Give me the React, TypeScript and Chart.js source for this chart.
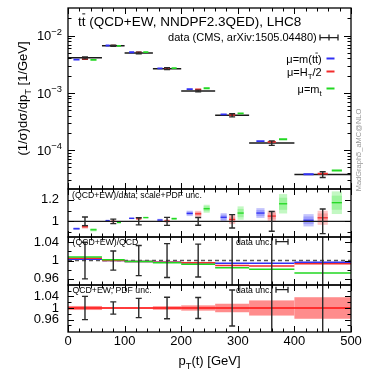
import React, { useEffect, useRef } from "react";
import { Chart, registerables } from "chart.js";

Chart.register(...registerables);

const FONT = "'Liberation Sans', Arial, Helvetica, sans-serif";

// ---------------- data ----------------
const BIN_EDGES = [0, 60, 100, 150, 200, 260, 320, 400, 500];
const DATA = [4.1e-3, 6.7e-3, 5.0e-3, 2.65e-3, 1.08e-3, 4.07e-4, 1.33e-4, 3.75e-5];
const DATA_REL_ERR = [0.04, 0.021, 0.033, 0.037, 0.036, 0.062, 0.092, 0.114];

// (QCD+EW)/data, with scale+PDF uncertainty (half width)
const RATIO_MTT = [0.932, 1.007, 1.028, 1.012, 1.074, 1.038, 1.077, 1.01];
const RATIO_MTT_UNC = [0.012, 0.008, 0.008, 0.012, 0.025, 0.038, 0.046, 0.057];
const RATIO_HT2 = [0.95, 1.0, 1.025, 1.003, 1.07, 1.018, 1.049, 1.033];
const RATIO_HT2_UNC = [0.018, 0.012, 0.012, 0.015, 0.028, 0.043, 0.049, 0.065];
const RATIO_MT = [0.922, 0.99, 1.035, 1.025, 1.117, 1.077, 1.163, 1.173];
const RATIO_MT_UNC = [0.015, 0.01, 0.008, 0.012, 0.037, 0.062, 0.09, 0.105];

// (QCD+EW)/QCD
const EW_MTT = [1.003, 1.0, 0.998, 0.996, 0.995, 0.994, 0.994, 0.996];
const EW_HT2 = [1.005, 1.0, 0.998, 0.996, 0.995, 0.989, 0.988, 0.993];
const EW_MT = [1.008, 1.002, 0.998, 0.995, 0.992, 0.984, 0.981, 0.973];

// QCD+EW PDF uncertainty (relative half width)
const PDF_UNC = [0.007, 0.002, 0.002, 0.006, 0.009, 0.0146, 0.026, 0.037];

// ticks
const X_TICKS = [0, 100, 200, 300, 400, 500];
const LOG_TICKS = [1e-4, 1e-3, 1e-2];
const R1_TICKS = [1, 1.2];
const R2_TICKS = [0.96, 1, 1.04];
const R3_TICKS = [0.96, 1, 1.04];

// ranges
const MAIN_MIN = 2.09e-5;
const MAIN_MAX = 3.05e-2;
const R1_MIN = 0.855;
const R1_MAX = 1.3;
const R2_MIN = 0.9465;
const R2_MAX = 1.0515;
const R3_MIN = 0.9175;
const R3_MAX = 1.079;

// ---------------- styles ----------------
const BLUE = "#3030f5";
const RED = "#f22c2c";
const GREEN = "#22d822";
const BLUE_FILL = "rgba(95,95,250,0.36)";
const RED_FILL = "rgba(250,95,95,0.36)";
const GREEN_FILL = "rgba(90,235,90,0.36)";
const BAND_FILL = "#ff8c8c";
const BOX_FRAC = 0.18;

const SERIES = [
  { ratio: RATIO_MTT, unc: RATIO_MTT_UNC, ew: EW_MTT, frac: 0.25, color: BLUE, fill: BLUE_FILL },
  { ratio: RATIO_HT2, unc: RATIO_HT2_UNC, ew: EW_HT2, frac: 0.5, color: RED, fill: RED_FILL },
  { ratio: RATIO_MT, unc: RATIO_MT_UNC, ew: EW_MT, frac: 0.75, color: GREEN, fill: GREEN_FILL },
];

type Part = { t: string; sub?: boolean; sup?: boolean; bar?: boolean };

function drawRich(ctx: CanvasRenderingContext2D, parts: Part[], x: number, y: number, size: number, align: "left" | "right" | "center", color = "#000") {
  const fs = (p: Part) => (p.sub || p.sup ? size * 0.72 : size);
  const widths = parts.map((p) => {
    ctx.font = `${fs(p)}px ${FONT}`;
    return ctx.measureText(p.t).width;
  });
  const total = widths.reduce((a, b) => a + b, 0);
  let cx = align === "left" ? x : align === "right" ? x - total : x - total / 2;
  ctx.textAlign = "left";
  ctx.textBaseline = "alphabetic";
  ctx.fillStyle = color;
  ctx.strokeStyle = color;
  parts.forEach((p, i) => {
    ctx.font = `${fs(p)}px ${FONT}`;
    const dy = p.sub ? size * 0.28 : p.sup ? -size * 0.42 : 0;
    ctx.fillText(p.t, cx, y + dy);
    if (p.bar) {
      ctx.beginPath();
      ctx.lineWidth = Math.max(0.8, size * 0.07);
      ctx.moveTo(cx + size * 0.04, y - size * 0.86);
      ctx.lineTo(cx + widths[i] - size * 0.02, y - size * 0.86);
      ctx.stroke();
    }
    cx += widths[i];
  });
}

function stepSegments(vals: number[]) {
  const pts: { x: number; y: number | null }[] = [];
  vals.forEach((v, i) => {
    pts.push({ x: BIN_EDGES[i], y: v }, { x: BIN_EDGES[i + 1], y: v }, { x: BIN_EDGES[i + 1], y: null });
  });
  return pts;
}

function markSegments(ratios: number[], frac: number) {
  const pts: { x: number; y: number | null }[] = [];
  ratios.forEach((r, i) => {
    const lo = BIN_EDGES[i];
    const w = BIN_EDGES[i + 1] - lo;
    const c = lo + w * frac;
    const h = (w * BOX_FRAC) / 2;
    const y = DATA[i] * r;
    pts.push({ x: c - h, y }, { x: c + h, y }, { x: c + h, y: null });
  });
  return pts;
}

function lineDs(data: any[], yAxisID: string, color: string, width: number, order: number, extra: any = {}) {
  return {
    type: "line",
    data,
    xAxisID: "x",
    yAxisID,
    borderColor: color,
    borderWidth: width,
    pointRadius: 0,
    fill: false,
    spanGaps: false,
    tension: 0,
    order,
    ...extra,
  };
}

function hLine(ctx: CanvasRenderingContext2D, x0: number, x1: number, y: number) {
  ctx.moveTo(x0, y);
  ctx.lineTo(x1, y);
}

function hErrIcon(ctx: CanvasRenderingContext2D, x0: number, x1: number, y: number, mid: boolean) {
  ctx.save();
  ctx.strokeStyle = "#222";
  ctx.lineWidth = 1.3;
  ctx.beginPath();
  hLine(ctx, x0, x1, y);
  ctx.moveTo(x0, y - 3);
  ctx.lineTo(x0, y + 3);
  ctx.moveTo(x1, y - 3);
  ctx.lineTo(x1, y + 3);
  if (mid) {
    const m = (x0 + x1) / 2;
    ctx.moveTo(m, y - 3);
    ctx.lineTo(m, y + 3);
  }
  ctx.stroke();
  ctx.restore();
}

const hepPlugin = {
  id: "hep",
  beforeDatasetsDraw(chart: any) {
    const ctx: CanvasRenderingContext2D = chart.ctx;
    const sx = chart.scales.x;
    const r1 = chart.scales.yR1;
    const r3 = chart.scales.yR3;
    // panel 2: uncertainty boxes
    ctx.save();
    ctx.beginPath();
    ctx.rect(sx.left, r1.top, sx.right - sx.left, r1.bottom - r1.top);
    ctx.clip();
    SERIES.forEach((s) => {
      s.ratio.forEach((r, i) => {
        const lo = BIN_EDGES[i];
        const w = BIN_EDGES[i + 1] - lo;
        const c = lo + w * s.frac;
        const h = (w * BOX_FRAC) / 2;
        const x0 = sx.getPixelForValue(c - h);
        const x1 = sx.getPixelForValue(c + h);
        const u = s.unc[i];
        const yT = r1.getPixelForValue(r + u);
        const yB = r1.getPixelForValue(r - u);
        ctx.fillStyle = s.fill;
        ctx.fillRect(x0, yT, x1 - x0, yB - yT);
        const yT2 = r1.getPixelForValue(r + u * 0.62);
        const yB2 = r1.getPixelForValue(r - u * 0.62);
        ctx.fillRect(x0, yT2, x1 - x0, yB2 - yT2);
        ctx.strokeStyle = s.color;
        ctx.lineWidth = 1.3;
        ctx.beginPath();
        hLine(ctx, x0, x1, r1.getPixelForValue(r));
        ctx.stroke();
      });
    });
    ctx.restore();
    // panel 4: PDF band
    ctx.save();
    ctx.fillStyle = BAND_FILL;
    PDF_UNC.forEach((u, i) => {
      const x0 = sx.getPixelForValue(BIN_EDGES[i]);
      const x1 = sx.getPixelForValue(BIN_EDGES[i + 1]);
      const yT = r3.getPixelForValue(1 + u);
      const yB = r3.getPixelForValue(1 - u);
      ctx.fillRect(x0, yT, x1 - x0, yB - yT);
    });
    ctx.restore();
  },
  afterDatasetsDraw(chart: any) {
    const ctx: CanvasRenderingContext2D = chart.ctx;
    const sx = chart.scales.x;
    const panels = [chart.scales.yMain, chart.scales.yR1, chart.scales.yR2, chart.scales.yR3];
    panels.forEach((sy: any, k: number) => {
      ctx.save();
      ctx.beginPath();
      ctx.rect(sx.left, sy.top, sx.right - sx.left, sy.bottom - sy.top);
      ctx.clip();
      ctx.strokeStyle = "#2a2a2a";
      ctx.lineWidth = 1.4;
      DATA.forEach((d, i) => {
        const c = (BIN_EDGES[i] + BIN_EDGES[i + 1]) / 2;
        const px = sx.getPixelForValue(c);
        const base = k === 0 ? d : 1;
        const e = DATA_REL_ERR[i] * base;
        const yT = sy.getPixelForValue(base + e);
        const yB = sy.getPixelForValue(base - e);
        ctx.beginPath();
        ctx.moveTo(px, yT);
        ctx.lineTo(px, yB);
        hLine(ctx, px - 3, px + 3, yT);
        hLine(ctx, px - 3, px + 3, yB);
        ctx.stroke();
      });
      ctx.restore();
    });
  },
  afterDraw(chart: any) {
    const ctx: CanvasRenderingContext2D = chart.ctx;
    const sx = chart.scales.x;
    const yMain = chart.scales.yMain;
    const panels = [
      { sy: yMain, log: true, major: 0, minor: 0 },
      { sy: chart.scales.yR1, log: false, major: 0.2, minor: 0.1 },
      { sy: chart.scales.yR2, log: false, major: 0.04, minor: 0.02 },
      { sy: chart.scales.yR3, log: false, major: 0.04, minor: 0.02 },
    ];
    ctx.save();
    ctx.strokeStyle = "#000";
    panels.forEach((p) => {
      const { sy } = p;
      const top = sy.top;
      const bot = sy.bottom;
      ctx.lineWidth = 1;
      ctx.beginPath();
      // x ticks, inward, top and bottom
      for (let v = 0; v <= 500; v += 20) {
        const px = Math.round(sx.getPixelForValue(v)) + 0.5;
        const len = v % 100 === 0 ? 6 : 3.5;
        ctx.moveTo(px, bot);
        ctx.lineTo(px, bot - len);
        ctx.moveTo(px, top);
        ctx.lineTo(px, top + len);
      }
      // y ticks, inward, left and right
      const yt: { v: number; len: number }[] = [];
      if (p.log) {
        for (let d = -5; d <= -1; d++) {
          for (let k = 1; k <= 9; k++) {
            const v = k * Math.pow(10, d);
            if (v >= MAIN_MIN && v <= MAIN_MAX) yt.push({ v, len: k === 1 ? 7 : 3.5 });
          }
        }
      } else {
        const n0 = Math.ceil(sy.min / p.minor - 1e-6);
        const n1 = Math.floor(sy.max / p.minor + 1e-6);
        for (let n = n0; n <= n1; n++) {
          const v = n * p.minor;
          const isMajor = Math.abs(v / p.major - Math.round(v / p.major)) < 1e-6;
          yt.push({ v, len: isMajor ? 6 : 3.5 });
        }
      }
      yt.forEach(({ v, len }) => {
        const py = Math.round(sy.getPixelForValue(v)) + 0.5;
        if (py < top + 1 || py > bot - 1) return;
        ctx.moveTo(sx.left, py);
        ctx.lineTo(sx.left + len, py);
        ctx.moveTo(sx.right, py);
        ctx.lineTo(sx.right - len, py);
      });
      ctx.stroke();
      ctx.lineWidth = 1.3;
      ctx.strokeRect(sx.left, top, sx.right - sx.left, bot - top);
    });
    ctx.restore();

    // log axis labels with superscripts
    ctx.save();
    yMain.ticks.forEach((t: any) => {
      const ex = Math.round(Math.log10(t.value));
      const py = yMain.getPixelForValue(t.value);
      drawRich(ctx, [{ t: "10" }, { t: "\u2212" + Math.abs(ex), sup: true }], 62, py + 4.6, 13, "right");
    });
    ctx.restore();

    // axis titles
    ctx.save();
    ctx.translate(27, (yMain.top + yMain.bottom) / 2);
    ctx.rotate(-Math.PI / 2);
    drawRich(ctx, [{ t: "(1/\u03c3)d\u03c3/dp" }, { t: "T", sub: true }, { t: " [1/GeV]" }], 0, 0, 13, "center");
    ctx.restore();

    drawRich(ctx, [{ t: "p" }, { t: "T", sub: true }, { t: "(t) [GeV]" }], (sx.left + sx.right) / 2, 365, 13, "center");

    // title
    drawRich(ctx, [{ t: "t" }, { t: "t", bar: true }, { t: " (QCD+EW, NNDPF2.3QED), LHC8" }], 78, 25.5, 13.5, "left");

    // legend
    drawRich(ctx, [{ t: "data (CMS, arXiv:1505.04480)" }], 316.7, 41.4, 11, "right");
    hErrIcon(ctx, 320, 338, 37.6, true);
    const legendRows: { parts: Part[]; color: string; y: number }[] = [
      { parts: [{ t: "\u03bc=m(t" }, { t: "t", bar: true }, { t: ")" }], color: BLUE, y: 58.5 },
      { parts: [{ t: "\u03bc=H" }, { t: "T", sub: true }, { t: "/2" }], color: RED, y: 71.5 },
      { parts: [{ t: "\u03bc=m" }, { t: "t", sub: true }], color: GREEN, y: 88.5 },
    ];
    legendRows.forEach((row) => {
      drawRich(ctx, row.parts, 321.7, row.y + 4, 11, "right");
      ctx.save();
      ctx.strokeStyle = row.color;
      ctx.lineWidth = 2;
      ctx.beginPath();
      hLine(ctx, 326.5, 334.5, row.y);
      ctx.stroke();
      ctx.restore();
    });

    // generator tag
    ctx.save();
    ctx.translate(361, 150);
    ctx.rotate(-Math.PI / 2);
    drawRich(ctx, [{ t: "MadGraph5_aMC@NLO" }], 0, 0, 7.5, "center", "#999");
    ctx.restore();

    // panel labels
    drawRich(ctx, [{ t: "(QCD+EW)/data; scale+PDF unc." }], 72, 198.3, 8.7, "left");
    drawRich(ctx, [{ t: "(QCD+EW)/QCD" }], 72.5, 244.8, 8.7, "left");
    drawRich(ctx, [{ t: "data unc." }], 236, 245, 8.7, "left");
    hErrIcon(ctx, 276, 288, 241.7, false);
    drawRich(ctx, [{ t: "QCD+EW; PDF unc." }], 72.5, 292.6, 8.7, "left");
    drawRich(ctx, [{ t: "data unc." }], 236, 292.8, 8.7, "left");
    hErrIcon(ctx, 276, 288, 289.7, false);
  },
};

const tickFont = { family: FONT, size: 13 };

function yAxis(extra: any) {
  return {
    position: "left",
    stack: "panels",
    offset: false,
    grid: { display: false, drawTicks: false },
    border: { display: false },
    ticks: { color: "#000", font: tickFont, padding: 9, autoSkip: false, callback: (v: any) => String(v) },
    afterFit: (s: any) => {
      s.width = 68;
      s.paddingTop = 0;
      s.paddingBottom = 0;
    },
    ...extra,
  };
}

export default function App() {
  const ref = useRef<HTMLCanvasElement>(null);
  useEffect(() => {
    document.body.style.margin = "0";
    const canvas = ref.current;
    if (!canvas) return;
    const datasets: any[] = [
      lineDs(stepSegments(DATA), "yMain", "#1a1a1a", 1.5, 10),
      ...SERIES.map((s, i) => lineDs(markSegments(s.ratio, s.frac), "yMain", s.color, 1.8, 3 - i)),
      lineDs([{ x: BIN_EDGES[0], y: 1 }, { x: BIN_EDGES[8], y: 1 }], "yR1", "#1a1a1a", 1.3, 1),
      lineDs([{ x: BIN_EDGES[0], y: 1 }, { x: BIN_EDGES[8], y: 1 }], "yR2", "#555", 1.6, 9, { borderDash: [4, 3] }),
      ...SERIES.map((s, i) => lineDs(stepSegments(s.ew), "yR2", s.color, 1.5, 6 - i)),
      lineDs([{ x: BIN_EDGES[0], y: 1 }, { x: BIN_EDGES[8], y: 1 }], "yR3", "#ff1010", 1.3, 1),
    ];
    const chart = new Chart(canvas, {
      type: "line",
      data: { datasets },
      options: {
        responsive: false,
        animation: false,
        devicePixelRatio: 1,
        layout: { padding: { top: 8, right: 23, left: 0, bottom: 0 } },
        plugins: { legend: { display: false }, tooltip: { enabled: false }, title: { display: false } },
        scales: {
          x: {
            type: "linear",
            position: "bottom",
            min: 0,
            max: 500,
            grid: { display: false, drawTicks: false },
            border: { display: false },
            ticks: { color: "#000", font: tickFont, padding: 2, autoSkip: false, maxRotation: 0, callback: (v: any) => String(v) },
            afterBuildTicks: (s: any) => {
              s.ticks = X_TICKS.map((v) => ({ value: v }));
            },
            afterFit: (s: any) => {
              s.height = 48;
              s.paddingLeft = 0;
              s.paddingRight = 0;
            },
          },
          yMain: yAxis({
            type: "logarithmic",
            min: MAIN_MIN,
            max: MAIN_MAX,
            stackWeight: 181,
            weight: 4,
            ticks: { display: false },
            afterBuildTicks: (s: any) => {
              s.ticks = LOG_TICKS.map((v) => ({ value: v }));
            },
          }),
          yR1: yAxis({
            type: "linear",
            min: R1_MIN,
            max: R1_MAX,
            stackWeight: 48,
            weight: 3,
            afterBuildTicks: (s: any) => {
              s.ticks = R1_TICKS.map((v) => ({ value: v }));
            },
          }),
          yR2: yAxis({
            type: "linear",
            min: R2_MIN,
            max: R2_MAX,
            stackWeight: 48,
            weight: 2,
            afterBuildTicks: (s: any) => {
              s.ticks = R2_TICKS.map((v) => ({ value: v }));
            },
          }),
          yR3: yAxis({
            type: "linear",
            min: R3_MIN,
            max: R3_MAX,
            stackWeight: 47,
            weight: 1,
            afterBuildTicks: (s: any) => {
              s.ticks = R3_TICKS.map((v) => ({ value: v }));
            },
          }),
        },
      } as any,
      plugins: [hepPlugin],
    });
    return () => chart.destroy();
  }, []);
  return <canvas ref={ref} width={374} height={380} style={{ display: "block", width: 374, height: 380 }} />;
}
